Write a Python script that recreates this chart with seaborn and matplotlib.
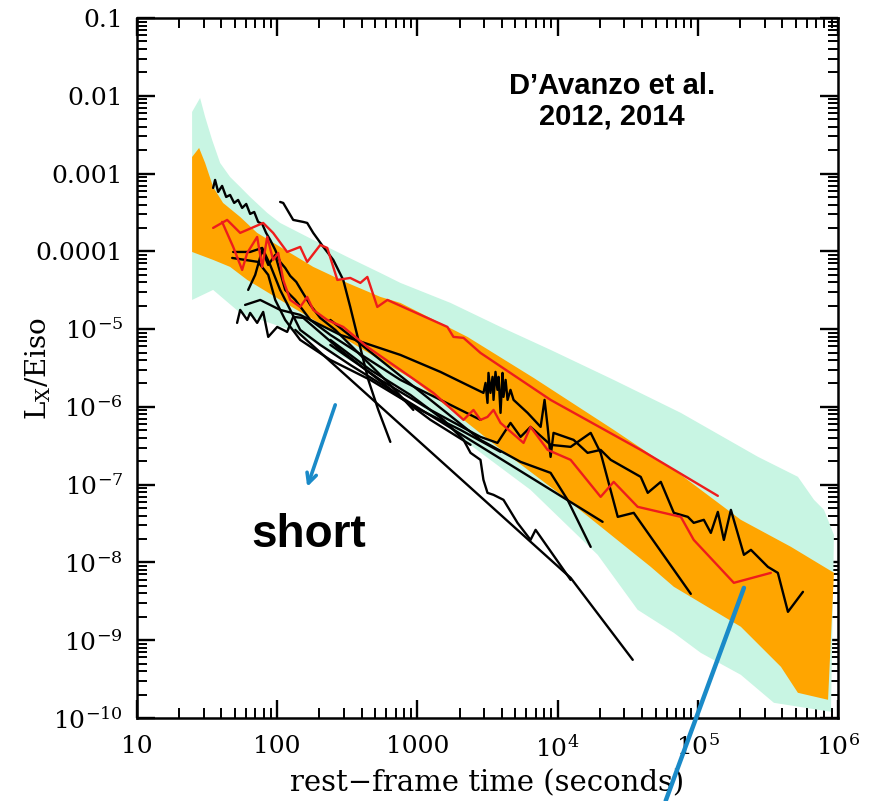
import numpy as np
import pandas as pd
import matplotlib
matplotlib.use("Agg")
import matplotlib.pyplot as plt
import seaborn as sns
from matplotlib.ticker import FixedLocator, FixedFormatter, LogLocator, NullFormatter

# ---------------- data (log10 of time [s] and of Lx/Eiso) ----------------
cyan_up_logt = [1.393, 1.450, 1.486, 1.536, 1.593, 1.664, 1.736, 1.807, 1.929, 2.021, 2.257, 2.500,
                2.736, 2.879, 3.236, 3.593, 3.950, 4.400, 4.879, 5.429, 5.714, 5.829, 5.900, 5.971]
cyan_up_logy = [-2.208, -2.028, -2.272, -2.568, -2.864, -3.044, -3.172, -3.301, -3.506, -3.635, -3.853, -4.072,
                -4.278, -4.406, -4.663, -4.972, -5.267, -5.653, -6.077, -6.642, -6.899, -7.195, -7.324, -7.645]
cyan_lo_logt = [1.393, 1.543, 1.736, 2.093, 2.786, 3.329, 3.807, 4.286, 4.571, 4.829, 5.021, 5.307, 5.543, 5.950]
cyan_lo_logy = [-4.625, -4.496, -4.792, -5.010, -5.653, -6.424, -7.067, -7.902, -8.609, -8.905, -9.162, -9.445, -9.805, -9.920]

orange_up_logt = [1.393, 1.443, 1.486, 1.543, 1.614, 1.736, 1.857, 2.021, 2.257, 2.500, 2.736, 2.879,
                  3.357, 3.829, 4.400, 4.879, 5.307, 5.664, 5.971]
orange_up_logy = [-2.787, -2.671, -2.864, -3.172, -3.378, -3.558, -3.763, -3.943, -4.200, -4.406, -4.586, -4.663,
                  -5.100, -5.627, -6.295, -6.874, -7.452, -7.799, -8.133]
orange_lo_logt = [1.393, 1.543, 1.664, 1.786, 2.021, 2.379, 2.971, 3.571, 4.043, 4.664, 4.829, 5.307, 5.593, 5.714, 5.929]
orange_lo_logy = [-4.008, -4.110, -4.200, -4.367, -4.625, -5.010, -5.653, -6.514, -7.157, -8.056, -8.313, -8.827,
                  -9.342, -9.676, -9.766]

blk1_logt = [1.543, 1.557, 1.579, 1.607, 1.636, 1.664, 1.693, 1.721, 1.750, 1.779, 1.807, 1.836, 1.864, 1.893,
             1.921, 1.950, 1.986, 2.021, 2.057, 2.093, 2.136, 2.179, 2.236, 2.307, 2.414, 2.521, 2.664, 2.807, 2.971]
blk1_logy = [-3.185, -3.082, -3.236, -3.159, -3.301, -3.275, -3.378, -3.339, -3.442, -3.391, -3.519, -3.494, -3.622,
             -3.648, -3.763, -3.853, -3.982, -4.136, -4.213, -4.316, -4.393, -4.522, -4.689, -4.856, -5.010, -5.203,
             -5.460, -5.717, -6.039]
blk2_logt = [2.021, 2.043, 2.114, 2.186, 2.214, 2.257, 2.329, 2.400, 2.471, 2.521, 2.579, 2.650, 2.721, 2.807]
blk2_logy = [-3.365, -3.378, -3.596, -3.622, -3.635, -3.763, -3.943, -4.110, -4.368, -4.715, -5.139, -5.653, -6.039, -6.450]
blk3_logt = [2.129, 4.093, 4.536]
blk3_logy = [-5.010, -8.198, -9.252]
blk4_logt = [2.379, 2.664, 2.950, 3.186, 3.329, 3.379, 3.450, 3.471, 3.500, 3.543, 3.614, 3.714, 3.807, 3.843, 4.093]
blk4_logy = [-5.139, -5.524, -5.846, -6.167, -6.424, -6.591, -6.681, -6.938, -7.105, -7.131, -7.195, -7.491, -7.710,
             -7.581, -8.224]
blk5_logt = [1.714, 1.736, 1.786, 1.807, 1.857, 1.900, 1.936, 2.000, 2.071, 2.114, 2.186, 2.450, 2.879, 4.321]
blk5_logy = [-4.920, -4.753, -4.882, -4.792, -4.920, -4.779, -5.100, -4.972, -5.036, -4.843, -4.856, -5.267, -5.871, -7.478]
blk6_logt = [1.771, 1.879, 2.021, 2.164, 2.450, 2.879, 3.164, 3.471, 3.486, 3.500, 3.507, 3.521, 3.536, 3.543,
             3.557, 3.571, 3.579, 3.593, 3.607, 3.614, 3.629, 3.643, 3.664, 3.686, 3.786, 3.879, 3.907, 3.929,
             3.950, 3.971, 4.114, 4.214, 4.307, 4.379, 4.593, 4.643, 4.736, 4.829, 4.929, 4.971, 5.043, 5.093,
             5.143, 5.186, 5.236, 5.329, 5.379, 5.500, 5.571, 5.643, 5.750]
blk6_logy = [-4.689, -4.625, -4.753, -4.817, -5.074, -5.332, -5.550, -5.820, -5.692, -5.949, -5.563, -5.820, -5.614,
             -5.910, -5.550, -5.781, -5.614, -6.077, -5.563, -5.871, -5.653, -5.910, -5.781, -5.910, -6.077, -6.257,
             -5.910, -6.257, -6.643, -6.334, -6.424, -6.591, -6.553, -6.681, -6.900, -7.105, -6.964, -7.362, -7.414,
             -7.491, -7.452, -7.620, -7.350, -7.710, -7.324, -7.902, -7.838, -8.057, -8.134, -8.635, -8.378]
blk7_logt = [2.379, 2.736, 3.093, 3.450, 3.571, 3.664, 3.736, 3.807, 3.950, 4.093, 4.236, 4.307, 4.429, 4.543, 4.950]
blk7_logy = [-5.203, -5.653, -6.039, -6.386, -6.463, -6.206, -6.386, -6.257, -6.488, -6.514, -6.334, -6.591, -7.414,
             -7.362, -8.404]
blk8_logt = [2.379, 2.736, 3.093, 3.450, 3.736, 3.950, 4.071, 4.236]
blk8_logy = [-4.882, -5.396, -5.910, -6.424, -6.707, -6.848, -7.195, -7.800]
blk9_logt = [1.686, 1.807, 1.893, 1.950, 2.021, 2.093, 2.164, 2.307, 2.521, 2.807, 3.093, 3.379]
blk9_logy = [-4.008, -4.008, -3.956, -4.175, -4.496, -4.753, -5.010, -5.203, -5.460, -5.781, -6.167, -6.488]
blk10_logt = [1.679, 1.864, 1.936, 1.986, 2.057, 2.164, 2.379, 2.664, 3.021, 3.307, 3.593]
blk10_logy = [-4.085, -4.136, -4.303, -4.625, -4.882, -5.139, -5.396, -5.653, -6.039, -6.296, -6.578]
blk11_logt = [1.793, 1.843, 1.893, 1.936, 1.986, 2.057, 2.129, 2.236, 2.379, 2.879, 3.450]
blk11_logy = [-4.496, -4.303, -3.982, -4.175, -4.046, -4.496, -4.625, -4.882, -5.074, -5.653, -6.167]

red1_logt = [1.543, 1.643, 1.736, 1.900, 1.971, 2.071, 2.164, 2.214, 2.307, 2.357, 2.429, 2.521, 2.593, 2.643,
             2.714, 2.786, 3.214, 3.257, 3.329, 3.450, 3.950, 4.593, 5.143]
red1_logy = [-3.699, -3.596, -3.763, -3.635, -3.763, -4.008, -3.943, -4.136, -3.918, -3.956, -4.368, -4.342, -4.406,
             -4.329, -4.715, -4.625, -4.972, -5.100, -5.113, -5.306, -5.910, -6.553, -7.144]
red2_logt = [1.607, 1.686, 1.750, 1.786, 1.857, 1.893, 1.929, 1.971, 2.007, 2.043, 2.093, 2.164, 2.214, 2.257,
             2.357, 2.471, 2.643, 2.879, 3.114, 3.329, 3.400, 3.450, 3.500, 3.543, 3.593, 3.757, 3.807, 3.929,
             4.093, 4.307, 4.400, 4.571, 4.879, 4.971, 5.257, 5.521]
red2_logy = [-3.622, -3.943, -4.239, -4.021, -3.815, -4.200, -3.815, -4.110, -4.021, -4.368, -4.625, -4.715, -4.586,
             -4.753, -4.882, -4.972, -5.229, -5.524, -5.820, -6.167, -6.039, -6.167, -6.129, -6.039, -6.206, -6.463,
             -6.257, -6.553, -6.681, -7.157, -6.964, -7.285, -7.414, -7.710, -8.262, -8.134]

x_tick_values = [1e1, 1e2, 1e3, 1e4, 1e5, 1e6]
x_tick_labels = ["10", "100", "1000", "$10^{4}$", "$10^{5}$", "$10^{6}$"]
y_tick_values = [1e-10, 1e-9, 1e-8, 1e-7, 1e-6, 1e-5, 1e-4, 1e-3, 1e-2, 1e-1]
y_tick_labels = ["$10^{-10}$", "$10^{-9}$", "$10^{-8}$", "$10^{-7}$", "$10^{-6}$", "$10^{-5}$",
                 "0.0001", "0.001", "0.01", "0.1"]

# ---------------- style ----------------
sns.set_style("ticks")
plt.rcParams["font.family"] = ["DejaVu Serif"]
plt.rcParams["mathtext.fontset"] = "dejavuserif"
for k in ["text.color", "axes.labelcolor", "xtick.color", "ytick.color", "axes.edgecolor"]:
    plt.rcParams[k] = "black"

CYAN = "#c8f5e3"
ORANGE = "#ffa500"
RED = "#ee1c1c"
BLUE = "#1a8ac8"

fig = plt.figure(figsize=(8.77, 8.01), dpi=100)
ax = fig.add_axes([137 / 877, 1 - 718 / 801, 701 / 877, 700 / 801])
ax.set_xscale("log")
ax.set_yscale("log")
ax.set_xlim(10, 1e6)
ax.set_ylim(1e-10, 0.1)

def P(a):
    return 10 ** np.asarray(a, dtype=float)

# bands
ax.fill(np.r_[P(cyan_up_logt), P(cyan_lo_logt)[::-1]], np.r_[P(cyan_up_logy), P(cyan_lo_logy)[::-1]],
        color=CYAN, lw=0, zorder=1)
ax.fill(np.r_[P(orange_up_logt), P(orange_lo_logt)[::-1]], np.r_[P(orange_up_logy), P(orange_lo_logy)[::-1]],
        color=ORANGE, lw=0, zorder=2)

# light curves
black_curves = {
    "b1": (blk1_logt, blk1_logy), "b2": (blk2_logt, blk2_logy), "b3": (blk3_logt, blk3_logy),
    "b4": (blk4_logt, blk4_logy), "b5": (blk5_logt, blk5_logy), "b6": (blk6_logt, blk6_logy),
    "b7": (blk7_logt, blk7_logy), "b8": (blk8_logt, blk8_logy), "b9": (blk9_logt, blk9_logy),
    "b10": (blk10_logt, blk10_logy), "b11": (blk11_logt, blk11_logy),
}
red_curves = {"r1": (red1_logt, red1_logy), "r2": (red2_logt, red2_logy)}

def to_frame(curves):
    rows = []
    for name, (lt, ly) in curves.items():
        for a, b in zip(lt, ly):
            rows.append((10 ** a, 10 ** b, name))
    return pd.DataFrame(rows, columns=["time", "ratio", "curve"])

df_black = to_frame(black_curves)
df_red = to_frame(red_curves)

sns.lineplot(data=df_black, x="time", y="ratio", units="curve", estimator=None, sort=False,
             color="black", linewidth=1.7, ax=ax, legend=False, zorder=3)
sns.lineplot(data=df_red, x="time", y="ratio", units="curve", estimator=None, sort=False,
             color=RED, linewidth=1.7, ax=ax, legend=False, zorder=4)

ax.set_xlim(10, 1e6)
ax.set_ylim(1e-10, 0.1)

# ticks
ax.xaxis.set_major_locator(FixedLocator(x_tick_values))
ax.xaxis.set_major_formatter(FixedFormatter(x_tick_labels))
ax.yaxis.set_major_locator(FixedLocator(y_tick_values))
ax.yaxis.set_major_formatter(FixedFormatter(y_tick_labels))
ax.xaxis.set_minor_locator(LogLocator(base=10, subs=np.arange(2, 10), numticks=100))
ax.yaxis.set_minor_locator(LogLocator(base=10, subs=np.arange(2, 10), numticks=100))
ax.xaxis.set_minor_formatter(NullFormatter())
ax.yaxis.set_minor_formatter(NullFormatter())
ax.tick_params(which="both", direction="in", top=True, right=True, colors="black")
ax.tick_params(which="major", length=13, width=1.7, labelsize=18, pad=10)
ax.tick_params(axis="x", which="major", pad=12)
ax.tick_params(which="minor", length=7, width=1.4)
for s in ax.spines.values():
    s.set_linewidth(1.8)
    s.set_color("black")

ax.set_xlabel("rest\u2212frame time (seconds)", fontsize=21, labelpad=6)
ax.set_ylabel("L$_{\\mathrm{X}}$/Eiso", fontsize=20)
ax.yaxis.set_label_coords(-0.120, 0.5)

# annotations
ax.text(0.678, 0.881, "D\u2019Avanzo et al.\n2012, 2014", transform=ax.transAxes, ha="center", va="center",
        fontsize=21, fontweight="bold", family=["Liberation Sans"], linespacing=1.15, zorder=6, color="black")
ax.text(0.245, 0.261, "short", transform=ax.transAxes, ha="center", va="center",
        fontsize=33, fontweight="bold", family=["Liberation Sans"], zorder=6, color="black")

ax.annotate("", xy=(10 ** 2.214, 10 ** -7.028), xytext=(10 ** 2.414, 10 ** -5.974),
            arrowprops=dict(arrowstyle="->,head_length=0.7,head_width=0.35", lw=2.6, color=BLUE,
                            shrinkA=0, shrinkB=0), zorder=7)
ax.annotate("", xy=(10 ** 4.771, 10 ** -11.064), xytext=(10 ** 5.329, 10 ** -8.327),
            arrowprops=dict(arrowstyle="-", lw=3.2, color=BLUE, shrinkA=0, shrinkB=0),
            annotation_clip=False, zorder=7)

fig.savefig("out.png", dpi=100)
